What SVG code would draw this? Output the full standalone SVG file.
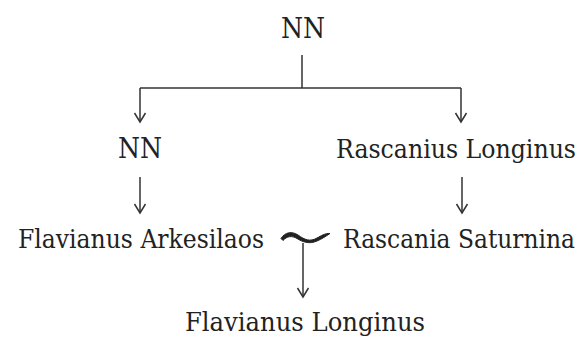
<svg xmlns="http://www.w3.org/2000/svg" width="587" height="337" viewBox="0 0 587 337">
<style>
  text { font-family: "DejaVu Serif Condensed", "DejaVu Serif", serif; font-stretch: condensed; font-size: 26px; fill: #222; }
  .big { font-size: 28px; }
  .ln { stroke: #333; stroke-width: 1.5; fill: none; }
</style>
<defs>
  <marker id="arr" markerUnits="userSpaceOnUse" viewBox="-10 -6 12 12" refX="0" refY="0" markerWidth="12" markerHeight="12" orient="auto" overflow="visible">
    <path d="M-9,-5.5 L0,0 L-9,5.5" fill="none" stroke="#333" stroke-width="1.5"/>
  </marker>
</defs>
<rect width="587" height="337" fill="#fff"/>
<g id="connectors">
  <path class="ln" d="M302,55 V88"/>
  <path class="ln" d="M140,88 H461"/>
  <path class="ln" d="M140,88 V122" marker-end="url(#arr)"/>
  <path class="ln" d="M461,88 V122" marker-end="url(#arr)"/>
  <path class="ln" d="M140,177 V213" marker-end="url(#arr)"/>
  <path class="ln" d="M462,177 V213" marker-end="url(#arr)"/>
  <path class="ln" d="M303,243 V297" marker-end="url(#arr)"/>
  <path id="marriage" d="M281,238.5 C285,232 292,231 298,235 C305,240 310,242 317,238 C321,236 325,233 330,233.5 C326,236 322,239 317,241 C309,244.5 303,242 297,238.5 C292,235.5 287,236 283,240.5 Z" fill="#222" stroke="#222" stroke-width="1"/>
</g>
<g id="n-top"><text class="big" x="303" y="38" text-anchor="middle">NN</text></g>
<g id="n-nn"><text class="big" x="140" y="158" text-anchor="middle">NN</text></g>
<g id="n-rascanius"><text x="576" y="158" text-anchor="end" textLength="240" lengthAdjust="spacingAndGlyphs">Rascanius Longinus</text></g>
<g id="n-arkesilaos"><text x="141" y="248" text-anchor="middle" textLength="246" lengthAdjust="spacingAndGlyphs">Flavianus Arkesilaos</text></g>
<g id="n-saturnina"><text x="575" y="248" text-anchor="end" textLength="232" lengthAdjust="spacingAndGlyphs">Rascania Saturnina</text></g>
<g id="n-flavianus"><text x="305" y="331" text-anchor="middle" textLength="240" lengthAdjust="spacingAndGlyphs">Flavianus Longinus</text></g>
</svg>
